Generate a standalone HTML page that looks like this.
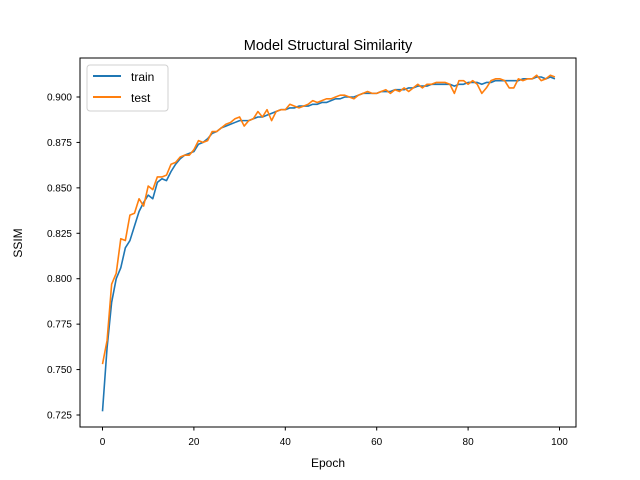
<!DOCTYPE html>
<html><head><meta charset="utf-8"><style>
html,body{margin:0;padding:0;background:#fff;}
svg{display:block;font-family:"Liberation Sans","DejaVu Sans",sans-serif;}
</style></head><body>
<svg id="chart" width="640" height="480">
<rect width="640" height="480" fill="#fff"/>
<text x="328" y="50" text-anchor="middle" font-size="14.5">Model Structural Similarity</text>
<g id="plot"></g>
<rect x="80" y="58" width="496" height="369" fill="none" stroke="#000" stroke-width="1"/>
<text x="328" y="467" text-anchor="middle" font-size="12">Epoch</text>
<text transform="translate(22,243) rotate(-90)" text-anchor="middle" font-size="12">SSIM</text>
<g>
<rect x="87" y="65" width="81" height="46" rx="3" fill="#fff" stroke="#ccc" opacity="0.9"/>
<line x1="93" y1="76" x2="121" y2="76" stroke="#1f77b4" stroke-width="2"/>
<text x="131" y="81" font-size="12">train</text>
<line x1="93" y1="97" x2="121" y2="97" stroke="#ff7f0e" stroke-width="2"/>
<text x="131" y="102" font-size="12">test</text>
</g>
</svg>
<script>
const xTicks=[0,20,40,60,80,100];
const yTicks=[0.725,0.750,0.775,0.800,0.825,0.850,0.875,0.900];
const train=[0.727,0.762,0.787,0.800,0.806,0.817,0.821,0.829,0.837,0.842,0.846,0.844,0.853,0.855,0.854,0.859,0.863,0.866,0.868,0.869,0.870,0.874,0.875,0.877,0.880,0.881,0.883,0.884,0.885,0.886,0.887,0.887,0.887,0.888,0.889,0.889,0.890,0.891,0.892,0.893,0.893,0.894,0.894,0.895,0.895,0.895,0.896,0.896,0.897,0.897,0.898,0.899,0.899,0.900,0.900,0.900,0.901,0.902,0.902,0.902,0.902,0.903,0.903,0.903,0.904,0.904,0.904,0.905,0.905,0.906,0.906,0.906,0.907,0.907,0.907,0.907,0.907,0.906,0.907,0.907,0.908,0.908,0.908,0.907,0.908,0.908,0.909,0.909,0.909,0.909,0.909,0.909,0.910,0.910,0.910,0.911,0.911,0.910,0.911,0.910];
const test=[0.753,0.766,0.797,0.803,0.822,0.821,0.835,0.836,0.844,0.840,0.851,0.849,0.856,0.856,0.857,0.863,0.864,0.867,0.868,0.868,0.871,0.876,0.875,0.876,0.881,0.881,0.883,0.885,0.886,0.888,0.889,0.884,0.887,0.888,0.892,0.889,0.893,0.887,0.892,0.893,0.893,0.896,0.895,0.894,0.895,0.896,0.898,0.897,0.898,0.899,0.899,0.900,0.901,0.901,0.900,0.899,0.901,0.902,0.903,0.902,0.902,0.903,0.904,0.902,0.904,0.903,0.905,0.903,0.905,0.907,0.905,0.907,0.907,0.908,0.908,0.908,0.907,0.902,0.909,0.909,0.907,0.909,0.907,0.902,0.905,0.909,0.910,0.910,0.909,0.905,0.905,0.910,0.909,0.910,0.910,0.912,0.909,0.910,0.912,0.911];
const NS="http://www.w3.org/2000/svg";
const xs=v=>102.5+v*4.57;
const ys=v=>415-(v-0.725)*(318/0.175);
const g=document.getElementById('plot');
function mk(t,a){const e=document.createElementNS(NS,t);for(const k in a)e.setAttribute(k,a[k]);g.appendChild(e);return e;}
xTicks.forEach(t=>{
  const l=mk('line',{x1:xs(t),x2:xs(t),y1:427,y2:430.5,stroke:'#000'});
  
  
  const tx=mk('text',{x:xs(t),y:445,'text-anchor':'middle','font-size':'10'});
  tx.textContent=t;
  
  
});
yTicks.forEach(t=>{
  const l=mk('line',{x1:76.5,x2:80,y1:ys(t),y2:ys(t),stroke:'#000'});
  
  
  const tx=mk('text',{x:72,y:ys(t)+3.5,'text-anchor':'end','font-size':'10'});
  tx.textContent=t.toFixed(3);
  
  
});
function line(arr,c,name){
  const p=mk('polyline',{points:arr.map((v,i)=>xs(i)+','+ys(v)).join(' '),fill:'none',stroke:c,'stroke-width':1.6,'stroke-linejoin':'round'});
  
  
}
line(train,'#1f77b4','train-line');
line(test,'#ff7f0e','test-line');
</script>
</body></html>
